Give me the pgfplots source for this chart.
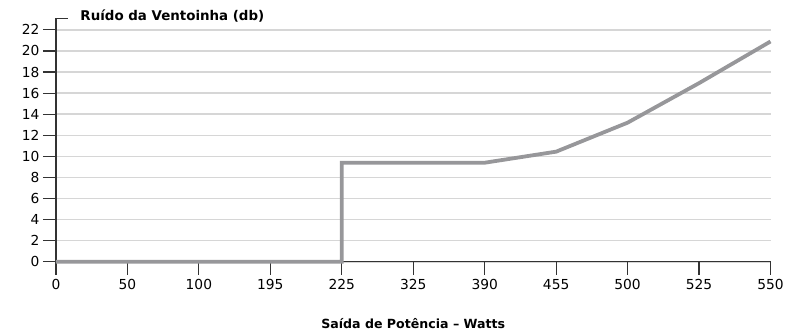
\documentclass[border=0pt]{standalone}
\usepackage{pgfplots}
\pgfplotsset{compat=1.18}
\usepackage{fontspec}
\setmainfont{DejaVu Sans}
\definecolor{linegray}{HTML}{97979A}
\definecolor{gridgray}{HTML}{D6D6D6}
\definecolor{axisdark}{HTML}{333333}
\begin{document}
\begin{tikzpicture}[x=1pt,y=1pt]
  \path (0,0) rectangle (787,334);
  \begin{axis}[
    at={(56pt,72pt)}, anchor=south west,
    scale only axis,
    width=715pt, height=243.7pt,
    xmin=0, xmax=10, ymin=0, ymax=23.1,
    axis lines*=left,
    axis line style={axisdark, line width=1.2pt, -},
    xtick={0,...,10},
    xticklabels={0,50,100,195,225,325,390,455,500,525,550},
    ytick={0,2,...,22},
    tick align=outside,
    major tick length=13pt,
    tick style={axisdark, line width=1.2pt},
    ymajorgrids,
    grid style={gridgray, line width=1.5pt},
    /pgf/number format/assume math mode=true,
    ticklabel style={font=\fontsize{13.8}{15}\selectfont, text=black},
    xticklabel style={yshift=-1pt},
    yticklabel style={xshift=0pt},
    xlabel={Saída de Potência – Watts},
    xlabel style={font=\bfseries\fontsize{12.6}{14}\selectfont, yshift=-22pt},
    title={Ruído da Ventoinha (db)},
    title style={font=\bfseries\fontsize{13.4}{15}\selectfont, at={(axis description cs:0,1)}, anchor=west, xshift=21pt, yshift=-4pt},
    clip=false,
  ]
    \addplot[linegray, line width=3.8pt, line join=miter] coordinates {
      (0,0) (4,0) (4,9.4) (6,9.4) (7,10.45) (8,13.2) (9,16.95) (10,20.9)
    };
    \draw[axisdark, line width=1.2pt] (axis cs:0,23.1) -- ++(12pt,0);
  \end{axis}
\end{tikzpicture}
\end{document}
